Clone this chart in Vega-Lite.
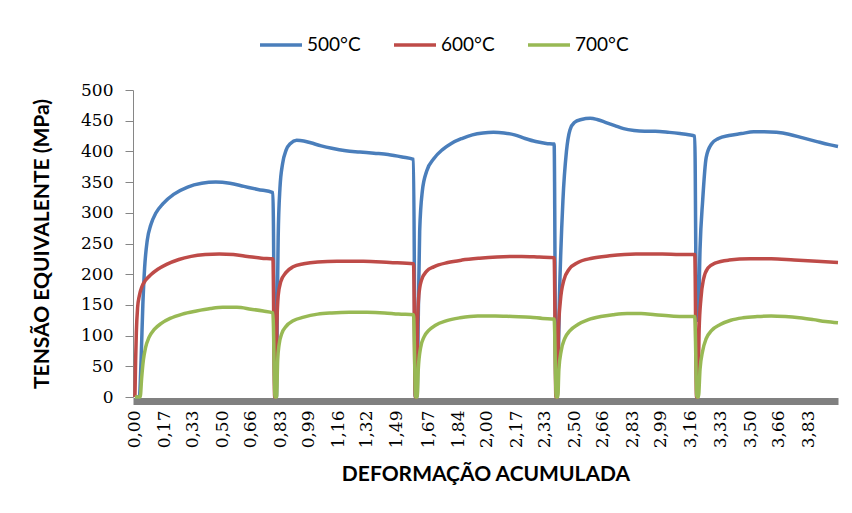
{
  "$schema": "https://vega.github.io/schema/vega-lite/v6.json",
  "width": 705,
  "height": 307,
  "autosize": "none",
  "padding": {"left": 133, "top": 90, "right": 14, "bottom": 116},
  "background": "white",
  "data": {
    "values": [
      {"x":0,"y":0,"s":"500°C"},{"x":0.025,"y":0,"s":"500°C"},{"x":0.035,"y":60,"s":"500°C"},{"x":0.045,"y":150,"s":"500°C"},{"x":0.055,"y":210,"s":"500°C"},{"x":0.07,"y":255,"s":"500°C"},{"x":0.09,"y":280,"s":"500°C"},{"x":0.12,"y":300,"s":"500°C"},{"x":0.16,"y":315,"s":"500°C"},{"x":0.22,"y":330,"s":"500°C"},{"x":0.3,"y":342,"s":"500°C"},{"x":0.38,"y":348,"s":"500°C"},{"x":0.46,"y":350,"s":"500°C"},{"x":0.54,"y":348,"s":"500°C"},{"x":0.62,"y":343,"s":"500°C"},{"x":0.7,"y":338,"s":"500°C"},{"x":0.785,"y":333,"s":"500°C"},
      {"x":0.797,"y":0,"s":"500°C"},{"x":0.805,"y":0,"s":"500°C"},{"x":0.81,"y":150,"s":"500°C"},{"x":0.815,"y":260,"s":"500°C"},{"x":0.825,"y":340,"s":"500°C"},{"x":0.84,"y":380,"s":"500°C"},{"x":0.86,"y":402,"s":"500°C"},{"x":0.885,"y":413,"s":"500°C"},{"x":0.92,"y":418,"s":"500°C"},{"x":0.96,"y":417,"s":"500°C"},{"x":1.0,"y":414,"s":"500°C"},{"x":1.06,"y":409,"s":"500°C"},{"x":1.12,"y":405,"s":"500°C"},{"x":1.2,"y":401,"s":"500°C"},{"x":1.28,"y":399,"s":"500°C"},{"x":1.36,"y":397,"s":"500°C"},{"x":1.44,"y":395,"s":"500°C"},{"x":1.52,"y":391,"s":"500°C"},{"x":1.585,"y":387,"s":"500°C"},
      {"x":1.595,"y":0,"s":"500°C"},{"x":1.605,"y":0,"s":"500°C"},{"x":1.612,"y":130,"s":"500°C"},{"x":1.62,"y":270,"s":"500°C"},{"x":1.635,"y":335,"s":"500°C"},{"x":1.66,"y":368,"s":"500°C"},{"x":1.7,"y":388,"s":"500°C"},{"x":1.75,"y":403,"s":"500°C"},{"x":1.8,"y":413,"s":"500°C"},{"x":1.86,"y":421,"s":"500°C"},{"x":1.92,"y":427,"s":"500°C"},{"x":1.98,"y":430,"s":"500°C"},{"x":2.04,"y":431,"s":"500°C"},{"x":2.1,"y":430,"s":"500°C"},{"x":2.16,"y":427,"s":"500°C"},{"x":2.22,"y":421,"s":"500°C"},{"x":2.28,"y":416,"s":"500°C"},{"x":2.34,"y":413,"s":"500°C"},{"x":2.385,"y":412,"s":"500°C"},
      {"x":2.395,"y":20,"s":"500°C"},{"x":2.405,"y":20,"s":"500°C"},{"x":2.415,"y":160,"s":"500°C"},{"x":2.435,"y":320,"s":"500°C"},{"x":2.455,"y":400,"s":"500°C"},{"x":2.475,"y":435,"s":"500°C"},{"x":2.5,"y":447,"s":"500°C"},{"x":2.54,"y":452,"s":"500°C"},{"x":2.59,"y":454,"s":"500°C"},{"x":2.63,"y":452,"s":"500°C"},{"x":2.68,"y":447,"s":"500°C"},{"x":2.73,"y":442,"s":"500°C"},{"x":2.78,"y":437,"s":"500°C"},{"x":2.84,"y":434,"s":"500°C"},{"x":2.9,"y":433,"s":"500°C"},{"x":2.96,"y":433,"s":"500°C"},{"x":3.04,"y":431,"s":"500°C"},{"x":3.1,"y":429,"s":"500°C"},{"x":3.15,"y":427,"s":"500°C"},{"x":3.185,"y":425,"s":"500°C"},
      {"x":3.195,"y":125,"s":"500°C"},{"x":3.205,"y":125,"s":"500°C"},{"x":3.215,"y":240,"s":"500°C"},{"x":3.23,"y":320,"s":"500°C"},{"x":3.25,"y":390,"s":"500°C"},{"x":3.28,"y":412,"s":"500°C"},{"x":3.32,"y":421,"s":"500°C"},{"x":3.38,"y":426,"s":"500°C"},{"x":3.45,"y":429,"s":"500°C"},{"x":3.52,"y":432,"s":"500°C"},{"x":3.58,"y":432,"s":"500°C"},{"x":3.65,"y":431,"s":"500°C"},{"x":3.72,"y":428,"s":"500°C"},{"x":3.8,"y":422,"s":"500°C"},{"x":3.88,"y":416,"s":"500°C"},{"x":3.95,"y":411,"s":"500°C"},{"x":4.0,"y":408,"s":"500°C"},

      {"x":0,"y":0,"s":"600°C"},{"x":0.004,"y":60,"s":"600°C"},{"x":0.008,"y":105,"s":"600°C"},{"x":0.015,"y":145,"s":"600°C"},{"x":0.025,"y":165,"s":"600°C"},{"x":0.04,"y":180,"s":"600°C"},{"x":0.06,"y":190,"s":"600°C"},{"x":0.09,"y":199,"s":"600°C"},{"x":0.13,"y":208,"s":"600°C"},{"x":0.18,"y":216,"s":"600°C"},{"x":0.25,"y":224,"s":"600°C"},{"x":0.32,"y":229,"s":"600°C"},{"x":0.4,"y":232,"s":"600°C"},{"x":0.48,"y":233,"s":"600°C"},{"x":0.56,"y":232,"s":"600°C"},{"x":0.64,"y":229,"s":"600°C"},{"x":0.72,"y":226,"s":"600°C"},{"x":0.785,"y":225,"s":"600°C"},
      {"x":0.795,"y":0,"s":"600°C"},{"x":0.803,"y":0,"s":"600°C"},{"x":0.808,"y":120,"s":"600°C"},{"x":0.815,"y":165,"s":"600°C"},{"x":0.83,"y":188,"s":"600°C"},{"x":0.86,"y":203,"s":"600°C"},{"x":0.9,"y":212,"s":"600°C"},{"x":0.96,"y":217,"s":"600°C"},{"x":1.04,"y":220,"s":"600°C"},{"x":1.15,"y":221,"s":"600°C"},{"x":1.3,"y":221,"s":"600°C"},{"x":1.45,"y":219,"s":"600°C"},{"x":1.585,"y":217,"s":"600°C"},
      {"x":1.595,"y":0,"s":"600°C"},{"x":1.603,"y":0,"s":"600°C"},{"x":1.608,"y":120,"s":"600°C"},{"x":1.615,"y":165,"s":"600°C"},{"x":1.63,"y":190,"s":"600°C"},{"x":1.66,"y":205,"s":"600°C"},{"x":1.7,"y":212,"s":"600°C"},{"x":1.78,"y":219,"s":"600°C"},{"x":1.86,"y":223,"s":"600°C"},{"x":1.96,"y":226,"s":"600°C"},{"x":2.06,"y":228,"s":"600°C"},{"x":2.2,"y":229,"s":"600°C"},{"x":2.3,"y":228,"s":"600°C"},{"x":2.385,"y":227,"s":"600°C"},
      {"x":2.395,"y":0,"s":"600°C"},{"x":2.403,"y":0,"s":"600°C"},{"x":2.41,"y":110,"s":"600°C"},{"x":2.42,"y":155,"s":"600°C"},{"x":2.44,"y":190,"s":"600°C"},{"x":2.47,"y":208,"s":"600°C"},{"x":2.52,"y":219,"s":"600°C"},{"x":2.6,"y":226,"s":"600°C"},{"x":2.7,"y":230,"s":"600°C"},{"x":2.85,"y":233,"s":"600°C"},{"x":3.0,"y":233,"s":"600°C"},{"x":3.1,"y":232,"s":"600°C"},{"x":3.185,"y":232,"s":"600°C"},
      {"x":3.195,"y":0,"s":"600°C"},{"x":3.203,"y":0,"s":"600°C"},{"x":3.21,"y":110,"s":"600°C"},{"x":3.22,"y":160,"s":"600°C"},{"x":3.235,"y":192,"s":"600°C"},{"x":3.26,"y":210,"s":"600°C"},{"x":3.3,"y":218,"s":"600°C"},{"x":3.38,"y":223,"s":"600°C"},{"x":3.5,"y":225,"s":"600°C"},{"x":3.62,"y":225,"s":"600°C"},{"x":3.75,"y":223,"s":"600°C"},{"x":3.88,"y":221,"s":"600°C"},{"x":4.0,"y":219,"s":"600°C"},

      {"x":0,"y":0,"s":"700°C"},{"x":0.03,"y":0,"s":"700°C"},{"x":0.038,"y":30,"s":"700°C"},{"x":0.048,"y":60,"s":"700°C"},{"x":0.06,"y":80,"s":"700°C"},{"x":0.08,"y":97,"s":"700°C"},{"x":0.11,"y":110,"s":"700°C"},{"x":0.15,"y":120,"s":"700°C"},{"x":0.2,"y":128,"s":"700°C"},{"x":0.27,"y":135,"s":"700°C"},{"x":0.35,"y":140,"s":"700°C"},{"x":0.43,"y":144,"s":"700°C"},{"x":0.5,"y":146,"s":"700°C"},{"x":0.58,"y":146,"s":"700°C"},{"x":0.66,"y":143,"s":"700°C"},{"x":0.73,"y":140,"s":"700°C"},{"x":0.785,"y":137,"s":"700°C"},
      {"x":0.797,"y":0,"s":"700°C"},{"x":0.806,"y":0,"s":"700°C"},{"x":0.812,"y":60,"s":"700°C"},{"x":0.82,"y":85,"s":"700°C"},{"x":0.835,"y":103,"s":"700°C"},{"x":0.86,"y":115,"s":"700°C"},{"x":0.9,"y":124,"s":"700°C"},{"x":0.96,"y":130,"s":"700°C"},{"x":1.04,"y":135,"s":"700°C"},{"x":1.12,"y":137,"s":"700°C"},{"x":1.22,"y":138,"s":"700°C"},{"x":1.32,"y":138,"s":"700°C"},{"x":1.42,"y":137,"s":"700°C"},{"x":1.5,"y":135,"s":"700°C"},{"x":1.585,"y":134,"s":"700°C"},
      {"x":1.597,"y":0,"s":"700°C"},{"x":1.606,"y":0,"s":"700°C"},{"x":1.612,"y":45,"s":"700°C"},{"x":1.625,"y":80,"s":"700°C"},{"x":1.645,"y":98,"s":"700°C"},{"x":1.67,"y":108,"s":"700°C"},{"x":1.71,"y":117,"s":"700°C"},{"x":1.77,"y":124,"s":"700°C"},{"x":1.85,"y":129,"s":"700°C"},{"x":1.95,"y":132,"s":"700°C"},{"x":2.05,"y":132,"s":"700°C"},{"x":2.15,"y":131,"s":"700°C"},{"x":2.25,"y":130,"s":"700°C"},{"x":2.32,"y":128,"s":"700°C"},{"x":2.385,"y":127,"s":"700°C"},
      {"x":2.397,"y":0,"s":"700°C"},{"x":2.406,"y":0,"s":"700°C"},{"x":2.412,"y":45,"s":"700°C"},{"x":2.425,"y":75,"s":"700°C"},{"x":2.445,"y":95,"s":"700°C"},{"x":2.475,"y":108,"s":"700°C"},{"x":2.52,"y":118,"s":"700°C"},{"x":2.58,"y":126,"s":"700°C"},{"x":2.65,"y":131,"s":"700°C"},{"x":2.72,"y":134,"s":"700°C"},{"x":2.8,"y":136,"s":"700°C"},{"x":2.88,"y":136,"s":"700°C"},{"x":2.96,"y":134,"s":"700°C"},{"x":3.05,"y":132,"s":"700°C"},{"x":3.12,"y":131,"s":"700°C"},{"x":3.185,"y":131,"s":"700°C"},
      {"x":3.197,"y":0,"s":"700°C"},{"x":3.206,"y":0,"s":"700°C"},{"x":3.215,"y":45,"s":"700°C"},{"x":3.23,"y":75,"s":"700°C"},{"x":3.25,"y":95,"s":"700°C"},{"x":3.28,"y":108,"s":"700°C"},{"x":3.33,"y":118,"s":"700°C"},{"x":3.39,"y":125,"s":"700°C"},{"x":3.46,"y":129,"s":"700°C"},{"x":3.54,"y":131,"s":"700°C"},{"x":3.62,"y":132,"s":"700°C"},{"x":3.7,"y":131,"s":"700°C"},{"x":3.78,"y":129,"s":"700°C"},{"x":3.86,"y":126,"s":"700°C"},{"x":3.93,"y":123,"s":"700°C"},{"x":4.0,"y":121,"s":"700°C"}
    ]
  },
  "mark": {"type": "line", "strokeWidth": 3.5, "interpolate": "monotone"},
  "encoding": {
    "x": {
      "field": "x", "type": "quantitative",
      "scale": {"domain": [-0.011, 4.0], "nice": false, "zero": false},
      "axis": {
        "title": "DEFORMAÇÃO ACUMULADA",
        "values": [0,0.17,0.33,0.5,0.66,0.83,0.99,1.16,1.32,1.49,1.67,1.84,2,2.17,2.33,2.5,2.66,2.83,2.99,3.16,3.33,3.5,3.66,3.83],
        "labelExpr": "replace(format(datum.value, '.2f'), '.', ',')",
        "labelAngle": -90,
        "labelFont": "DejaVu Serif",
        "labelFontSize": 17,
        "labelColor": "#000000",
        "labelPadding": 9,
        "ticks": false,
        "grid": false,
        "offset": 4,
        "domainWidth": 7,
        "domainColor": "#808080",
        "domainCap": "butt",
        "labelOverlap": false,
        "labelFlush": false,
        "titleFont": "Lato",
        "titleFontSize": 21,
        "titleFontWeight": "bold",
        "titleColor": "#000000",
        "titlePadding": 16
      }
    },
    "y": {
      "field": "y", "type": "quantitative",
      "scale": {"domain": [0, 500], "nice": false},
      "axis": {
        "title": "TENSÃO  EQUIVALENTE (MPa)",
        "values": [0,50,100,150,200,250,300,350,400,450,500],
        "grid": false,
        "domainColor": "#868686",
        "tickColor": "#868686",
        "tickSize": 8,
        "labelPadding": 12,
        "labelFont": "DejaVu Serif",
        "labelFontSize": 17,
        "labelColor": "#000000",
        "labelOverlap": false,
        "labelFlush": false,
        "titleFont": "Lato",
        "titleFontSize": 21,
        "titleFontWeight": "bold",
        "titleColor": "#000000",
        "titlePadding": 28
      }
    },
    "color": {
      "field": "s", "type": "nominal",
      "scale": {"domain": ["500°C", "600°C", "700°C"], "range": ["#4A7EBB", "#BE4B48", "#98B954"]},
      "legend": {
        "title": null,
        "orient": "none",
        "direction": "horizontal",
        "legendX": 125,
        "legendY": -68,
        "symbolType": "stroke",
        "symbolSize": 1764,
        "symbolStrokeWidth": 3.5,
        "labelFont": "Lato",
        "labelFontSize": 19,
        "labelColor": "#000000",
        "labelOffset": 3,
        "columnPadding": 26
      }
    }
  },
  "config": {"view": {"stroke": null}}
}
